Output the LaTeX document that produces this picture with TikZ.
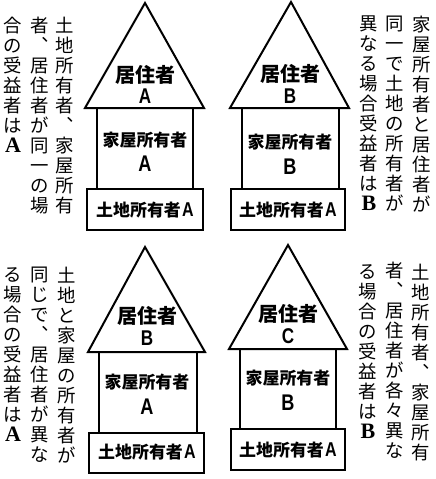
\documentclass[tikz,border=0pt]{standalone}
\usepackage{fontspec}
\setmainfont{Noto Sans CJK JP}
\newfontfamily\jp{Noto Sans CJK JP}
\newfontfamily\latser{Liberation Serif}
\newfontfamily\latsans{Liberation Sans}
\newcommand\vc{︑}
\newcommand\SL[1]{{\latser\bfseries\fontsize{16.5}{16.5}\selectfont #1}}
\newcommand\HL[2]{\scalebox{0.8}[1]{\latsans\bfseries\fontsize{#1}{#1}\selectfont #2}}
\begin{document}
\begin{tikzpicture}[x=0.75pt,y=-0.75pt,
  house/.style={line width=1.5pt, line join=miter},
  vtext/.style={anchor=north, inner sep=0pt, align=center, font=\jp\fontsize{13.8}{15}\selectfont},
  resident/.style={inner sep=0pt, font=\jp\bfseries\fontsize{15}{16}\selectfont},
  owner/.style={inner sep=0pt, font=\jp\bfseries\fontsize{12.7}{15}\selectfont},
  letter/.style={inner sep=0pt}
]
\useasboundingbox (0,0) rectangle (436,479);

% ---------- top-left house ----------
\draw[house] (85,108) -- (145,3) -- (204,108) -- cycle;
\draw[house] (97,108) -- (97,189) (193,108) -- (193,189);
\draw[house] (87,189) rectangle (203,230);
\node[resident] (tlr) at (145,75) {居住者};
\node[letter] (tlrl) at (145,96) {\HL{16}{A}};
\node[owner] (tlh) at (145,140) {家屋所有者};
\node[letter] (tlhl) at (145,164) {\HL{17}{A}};
\node[owner] (tll) at (145,210) {土地所有者\hspace{1pt}\HL{15}{A}};

% ---------- top-right house ----------
\draw[house] (230,108) -- (291,2) -- (349,108) -- cycle;
\draw[house] (242,108) -- (242,189) (339,108) -- (339,189);
\draw[house] (231,189) rectangle (345,230);
\node[resident] (trr) at (290,74) {居住者};
\node[letter] (trrl) at (290,96) {\HL{16}{B}};
\node[owner] (trh) at (290,142) {家屋所有者};
\node[letter] (trhl) at (290,167) {\HL{17}{B}};
\node[owner] (trl) at (288,210) {土地所有者\hspace{1pt}\HL{15}{A}};

% ---------- bottom-left house ----------
\draw[house] (88,352) -- (145,247) -- (205,352) -- cycle;
\draw[house] (99,352) -- (99,433) (197,352) -- (197,433);
\draw[house] (89,433) rectangle (204,473);
\node[resident] (blr) at (147,316) {居住者};
\node[letter] (blrl) at (147,338) {\HL{16}{B}};
\node[owner] (blh) at (147,382) {家屋所有者};
\node[letter] (blhl) at (147,407) {\HL{17}{A}};
\node[owner] (bll) at (147,452) {土地所有者\hspace{1pt}\HL{15}{A}};

% ---------- bottom-right house ----------
\draw[house] (229,349) -- (288,245) -- (347,349) -- cycle;
\draw[house] (240,349) -- (240,429) (336,349) -- (336,429);
\draw[house] (231,429) rectangle (345,470);
\node[resident] (brr) at (288,314) {居住者};
\node[letter] (brrl) at (288,336) {\HL{16}{C}};
\node[owner] (brh) at (288,378) {家屋所有者};
\node[letter] (brhl) at (288,403) {\HL{17}{B}};
\node[owner] (brl) at (288,450) {土地所有者\hspace{1pt}\HL{15}{A}};

% ---------- vertical captions ----------
% top-left
\node[vtext] (tlc1) at (65,17) {土\\地\\所\\有\\者\\\vc\\家\\屋\\所\\有};
\node[vtext] (tlc2) at (40,17) {者\\\vc\\居\\住\\者\\が\\同\\一\\の\\場};
\node[vtext] (tlc3) at (13,17) {合\\の\\受\\益\\者\\は\\\SL{A}};
% top-right
\node[vtext] (trc1) at (422,16) {家\\屋\\所\\有\\者\\と\\居\\住\\者\\が};
\node[vtext] (trc2) at (395,16) {同\\一\\で\\土\\地\\の\\所\\有\\者\\が};
\node[vtext] (trc3) at (369,16) {異\\な\\る\\場\\合\\受\\益\\者\\は\\\SL{B}};
% bottom-left
\node[vtext] (blc1) at (67,267) {土\\地\\と\\家\\屋\\の\\所\\有\\者\\が};
\node[vtext] (blc2) at (40,267) {同\\じ\\で\\\vc\\居\\住\\者\\が\\異\\な};
\node[vtext] (blc3) at (13,267) {る\\場\\合\\の\\受\\益\\者\\は\\\SL{A}};
% bottom-right
\node[vtext] (brc1) at (421,264) {土\\地\\所\\有\\者\\\vc\\家\\屋\\所\\有};
\node[vtext] (brc2) at (395,262) {者\\\vc\\居\\住\\者\\が\\各\\々\\異\\な};
\node[vtext] (brc3) at (368,264) {る\\場\\合\\の\\受\\益\\者\\は\\\SL{B}};
\end{tikzpicture}
\end{document}
